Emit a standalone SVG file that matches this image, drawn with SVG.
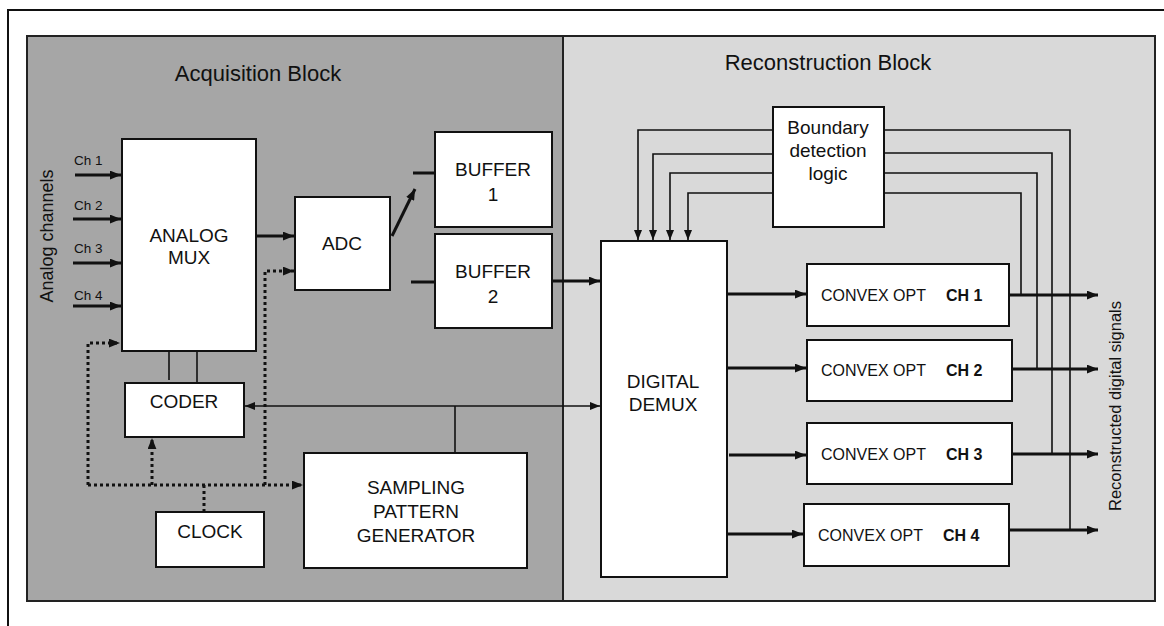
<svg xmlns="http://www.w3.org/2000/svg" width="1164" height="626" viewBox="0 0 1164 626">
<style>
text{font-family:"Liberation Sans",Arial,sans-serif;fill:#111}
.box{fill:#fff;stroke:#111;stroke-width:2}
.lbl{font-size:19px;text-anchor:middle}
.cvx{font-size:16px}
.b{font-weight:bold}
.thick{stroke:#111;stroke-width:3;fill:none}
.thin{stroke:#111;stroke-width:1.6;fill:none}
.dot{stroke:#111;stroke-width:3;fill:none;stroke-dasharray:3 3}
</style>
<defs>
<marker id="ah" viewBox="0 0 10 8" refX="10" refY="4" markerWidth="11" markerHeight="9" markerUnits="userSpaceOnUse" orient="auto-start-reverse"><path d="M0,0 L10,4 L0,8 z" fill="#111"/></marker>
<marker id="ahs" viewBox="0 0 10 8" refX="10" refY="4" markerWidth="10" markerHeight="8" markerUnits="userSpaceOnUse" orient="auto-start-reverse"><path d="M0,0 L10,4 L0,8 z" fill="#111"/></marker>
</defs>
<rect width="1164" height="626" fill="#fff"/>
<path d="M8,640 L8,10 L1180,10" fill="none" stroke="#111" stroke-width="2"/>
<g id="acquisition-block">
<rect x="27" y="36" width="536" height="565" fill="#a6a6a6" stroke="#222" stroke-width="2"/>
<text x="258" y="81" style="font-size:22px" text-anchor="middle">Acquisition Block</text>
</g>
<g id="reconstruction-block">
<rect x="563" y="36" width="592" height="565" fill="#d9d9d9" stroke="#222" stroke-width="2"/>
<text x="828" y="70" style="font-size:22px" text-anchor="middle">Reconstruction Block</text>
</g>
<text x="53" y="236" style="font-size:18px" text-anchor="middle" transform="rotate(-90 53 236)">Analog  channels</text>
<text x="1121" y="406" style="font-size:16.5px" text-anchor="middle" transform="rotate(-90 1121 406)">Reconstructed digital signals</text>
<g id="channel-labels" style="font-size:13.5px">
<text x="74" y="165">Ch 1</text>
<text x="74" y="210">Ch 2</text>
<text x="74" y="253">Ch 3</text>
<text x="74" y="300">Ch 4</text>
</g>
<g id="analog-mux"><rect class="box" x="122" y="139" width="134" height="212"/><text class="lbl" x="189" y="242">ANALOG</text><text class="lbl" x="189" y="264">MUX</text></g>
<g id="adc"><rect class="box" x="295" y="197" width="95" height="93"/><text class="lbl" x="342" y="250">ADC</text></g>
<g id="buffer1"><rect class="box" x="435" y="132" width="117" height="95"/><text class="lbl" x="493" y="176">BUFFER</text><text class="lbl" x="493" y="201">1</text></g>
<g id="buffer2"><rect class="box" x="435" y="234" width="117" height="94"/><text class="lbl" x="493" y="278">BUFFER</text><text class="lbl" x="493" y="303">2</text></g>
<g id="coder"><rect class="box" x="125" y="383" width="119" height="54"/><text class="lbl" x="184" y="408">CODER</text></g>
<g id="clock"><rect class="box" x="156" y="512" width="108" height="55"/><text class="lbl" x="210" y="538">CLOCK</text></g>
<g id="sampling-pattern-generator"><rect class="box" x="304" y="453" width="223" height="115"/><text class="lbl" x="416" y="494">SAMPLING</text><text class="lbl" x="416" y="518">PATTERN</text><text class="lbl" x="416" y="542">GENERATOR</text></g>
<g id="digital-demux"><rect class="box" x="601" y="241" width="126" height="336"/><text class="lbl" x="663" y="388">DIGITAL</text><text class="lbl" x="663" y="411">DEMUX</text></g>
<g id="boundary-detection"><rect class="box" x="773" y="107" width="111" height="120"/><text class="lbl" x="828" y="134">Boundary</text><text class="lbl" x="828" y="157">detection</text><text class="lbl" x="828" y="180">logic</text></g>
<g id="convex-ch1"><rect class="box" x="807" y="264" width="202" height="62"/><text class="cvx" x="821" y="301">CONVEX OPT</text><text class="cvx b" x="946" y="301">CH 1</text></g>
<g id="convex-ch2"><rect class="box" x="807" y="340" width="205" height="61"/><text class="cvx" x="821" y="376">CONVEX OPT</text><text class="cvx b" x="946" y="376">CH 2</text></g>
<g id="convex-ch3"><rect class="box" x="807" y="423" width="205" height="61"/><text class="cvx" x="821" y="460">CONVEX OPT</text><text class="cvx b" x="946" y="460">CH 3</text></g>
<g id="convex-ch4"><rect class="box" x="804" y="504" width="205" height="62"/><text class="cvx" x="818" y="541">CONVEX OPT</text><text class="cvx b" x="943" y="541">CH 4</text></g>
<g id="connectors">
<path class="thick" d="M75,175 H121" marker-end="url(#ah)"/>
<path class="thick" d="M73,219 H121" marker-end="url(#ah)"/>
<path class="thick" d="M73,263 H121" marker-end="url(#ah)"/>
<path class="thick" d="M73,306 H121" marker-end="url(#ah)"/>
<path class="thick" d="M256,236 H294" marker-end="url(#ah)"/>
<path class="thick" d="M392,236 L415,189" marker-end="url(#ah)"/>
<path class="thick" d="M413,173 H435"/>
<path class="thick" d="M411,282 H435"/>
<path class="thick" d="M552,281 H600" marker-end="url(#ah)"/>
<path class="thin" d="M169,351 V380"/>
<path class="thin" d="M197,351 V383"/>
<path class="thin" d="M245,406 H600" marker-start="url(#ahs)" marker-end="url(#ahs)"/>
<path class="thin" d="M455,453 V406"/>
<path class="dot" d="M88,485 V343 H120" marker-end="url(#ah)"/>
<path class="dot" d="M88,485 H303" marker-end="url(#ah)"/>
<path class="dot" d="M152,485 V438" marker-end="url(#ah)"/>
<path class="dot" d="M204,512 V485"/>
<path class="dot" d="M265,485 V271 H294" marker-end="url(#ah)"/>
<path class="thin" d="M773,130 H638 V240" marker-end="url(#ahs)"/>
<path class="thin" d="M773,154 H653 V240" marker-end="url(#ahs)"/>
<path class="thin" d="M773,173 H670 V240" marker-end="url(#ahs)"/>
<path class="thin" d="M773,193 H688 V240" marker-end="url(#ahs)"/>
<path class="thin" d="M884,130 H1070 V530"/>
<path class="thin" d="M884,153 H1052 V454"/>
<path class="thin" d="M884,173 H1037 V369"/>
<path class="thin" d="M884,193 H1021 V295"/>
<path class="thick" d="M727,294 H806" marker-end="url(#ah)"/>
<path class="thick" d="M727,368 H806" marker-end="url(#ah)"/>
<path class="thick" d="M729,455 H806" marker-end="url(#ah)"/>
<path class="thick" d="M727,534 H803" marker-end="url(#ah)"/>
<path class="thick" d="M1009,295 H1098" marker-end="url(#ah)"/>
<path class="thick" d="M1012,369 H1098" marker-end="url(#ah)"/>
<path class="thick" d="M1012,454 H1098" marker-end="url(#ah)"/>
<path class="thick" d="M1009,530 H1098" marker-end="url(#ah)"/>
</g>
</svg>
